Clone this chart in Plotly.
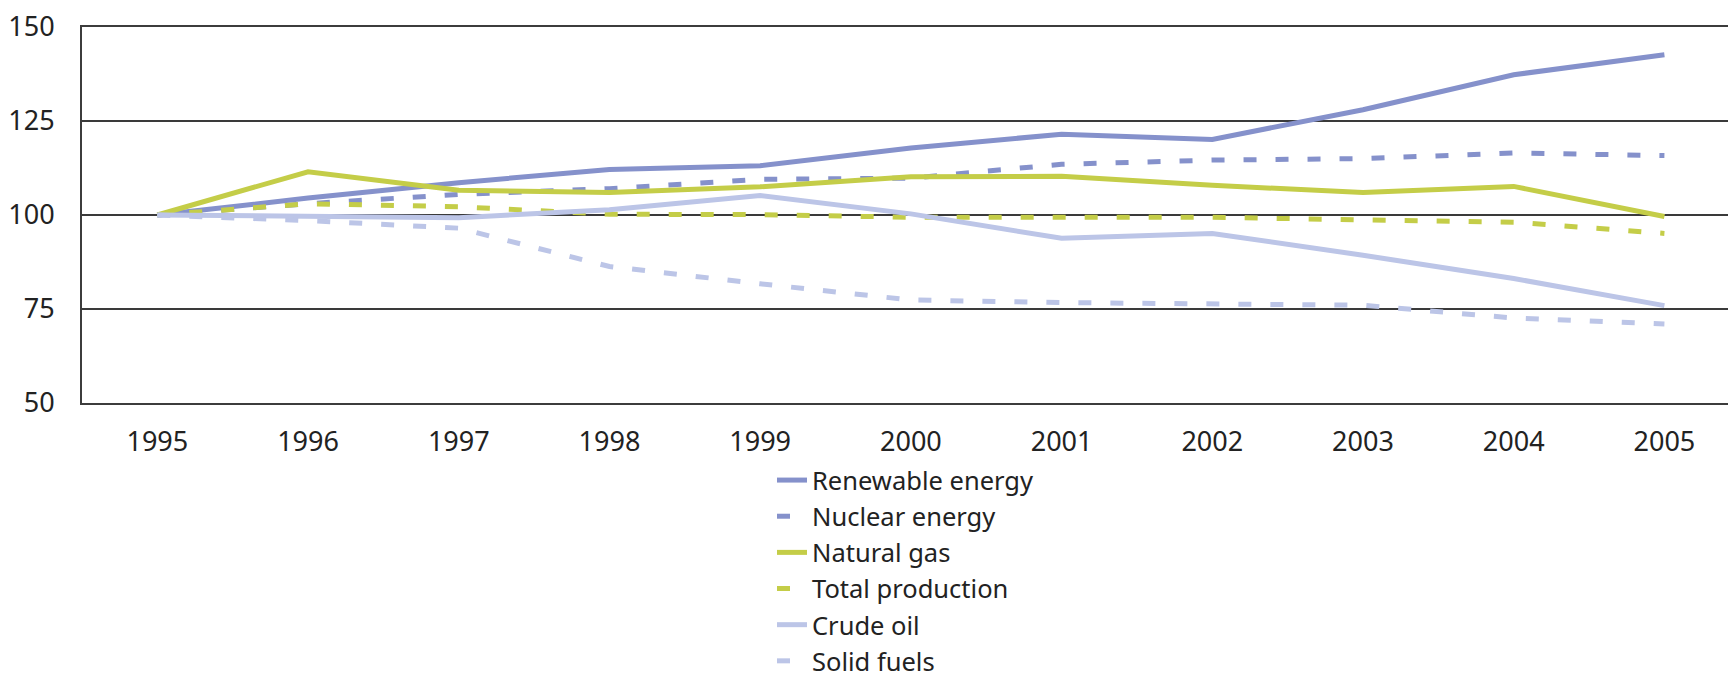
import plotly.graph_objects as go

years = [1995, 1996, 1997, 1998, 1999, 2000, 2001, 2002, 2003, 2004, 2005]

renewable = [100, 104.5, 108.6, 112.1, 113.1, 117.8, 121.5, 120.1, 128.0, 137.3, 142.6]
nuclear = [100, 103.0, 105.5, 107.0, 109.5, 109.8, 113.5, 114.6, 115.0, 116.5, 115.8]
natural_gas = [100, 111.5, 106.6, 106.0, 107.5, 110.2, 110.3, 107.9, 106.0, 107.6, 99.6]
total_production = [100, 103.0, 102.2, 100.2, 100.1, 99.4, 99.4, 99.4, 98.7, 98.1, 95.1]
crude_oil = [100, 99.8, 99.3, 101.4, 105.2, 100.3, 93.8, 95.1, 89.3, 83.1, 75.9]
solid_fuels = [100, 98.5, 96.5, 86.3, 81.7, 77.4, 76.7, 76.5, 76.0, 72.6, 71.0]

series = [
    ("Renewable energy", renewable, "#8591cb", "solid"),
    ("Nuclear energy", nuclear, "#8591cb", "13px,19px"),
    ("Natural gas", natural_gas, "#c4cd48", "solid"),
    ("Total production", total_production, "#c4cd48", "13px,19px"),
    ("Crude oil", crude_oil, "#bcc5e7", "solid"),
    ("Solid fuels", solid_fuels, "#bcc5e7", "13px,19px"),
]

FONT = "Noto Sans, Open Sans, sans-serif"
TXT = "#222222"

fig = go.Figure()
for name, vals, color, dash in series:
    fig.add_trace(go.Scatter(
        x=years, y=vals, name=name, mode="lines",
        line=dict(color=color, width=5, dash=dash),
    ))

# page body adds an ~8px offset; size the figure to fill the rest of the window
W, H = 1728, 671
L, R, T, B = 74, 0, 19, 276
plot_w = W - L - R
plot_h = H - T - B
plot_bottom = T + plot_h

fig.update_layout(
    width=W, height=H,
    margin=dict(l=L, r=R, t=T, b=B, pad=0, autoexpand=False),
    paper_bgcolor="white", plot_bgcolor="white",
    font=dict(family=FONT, size=27, color=TXT),
    showlegend=True,
    legend=dict(
        x=(764 - L) / plot_w, xanchor="left",
        y=(plot_bottom - 449) / plot_h, yanchor="top",
        bgcolor="rgba(0,0,0,0)", borderwidth=0,
        font=dict(family=FONT, size=25.5, color=TXT),
        tracegroupgap=0, itemwidth=30,
    ),
    xaxis=dict(
        range=[1994.5, 2005.475],
        tickmode="array", tickvals=years, ticktext=[str(y) for y in years],
        showgrid=False, zeroline=False,
        showline=True, linecolor="#3c3c3c", linewidth=2, mirror=True,
        ticks="", ticklabelstandoff=14, ticklabeloverflow="allow",
        tickfont=dict(family=FONT, size=27, color=TXT),
    ),
    yaxis=dict(
        range=[50, 150],
        tickmode="array", tickvals=[50, 75, 100, 125, 150],
        showgrid=True, gridcolor="#3a3a3a", gridwidth=1.6,
        zeroline=False,
        showline=True, linecolor="#3c3c3c", linewidth=2,
        ticks="", ticklabelstandoff=20, ticklabeloverflow="allow",
        tickfont=dict(family=FONT, size=27, color=TXT),
    ),
)

fig.write_html("out.html")
